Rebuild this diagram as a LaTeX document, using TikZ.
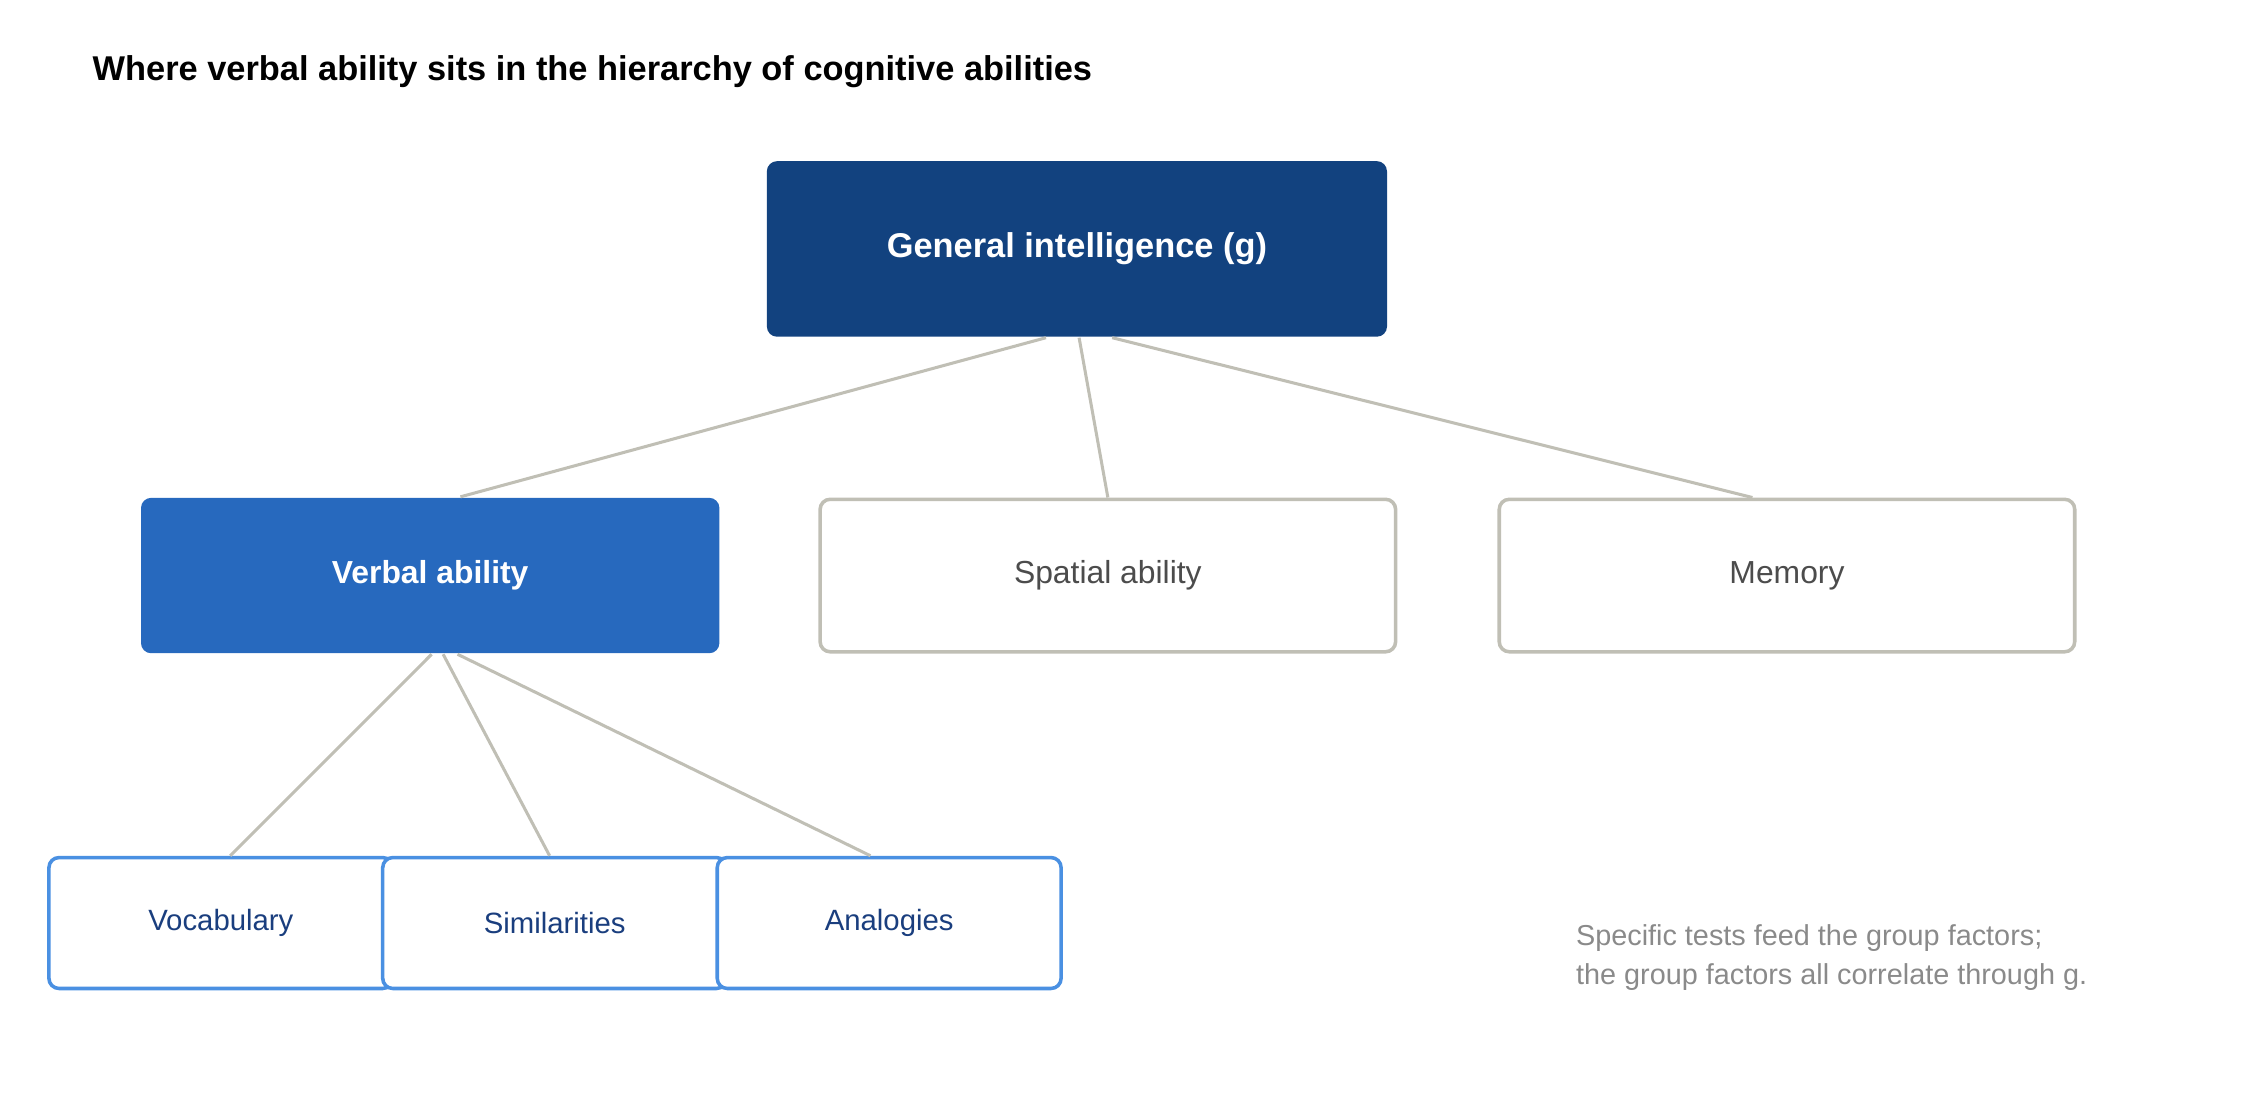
\documentclass[tikz,border=0pt]{standalone}
\usepackage{fontspec}
\setmainfont{Liberation Sans}
\definecolor{gdark}{HTML}{12427F}
\definecolor{vblue}{HTML}{2769BE}
\definecolor{lblue}{HTML}{4A90E2}
\definecolor{tblue}{HTML}{1A3E7E}
\definecolor{edgegray}{HTML}{C0BFB5}
\definecolor{notegray}{HTML}{8A8A8A}
\tikzset{
  top/.style={rectangle, rounded corners=2pt, fill=gdark, text=white, font=\fontsize{6.8pt}{8pt}\selectfont\bfseries, minimum width=4.31cm, minimum height=1.22cm},
  verbal/.style={rectangle, rounded corners=2pt, fill=vblue, text=white, font=\fontsize{6.3pt}{8pt}\selectfont\bfseries, minimum width=4.02cm, minimum height=1.08cm},
  group/.style={rectangle, rounded corners=2pt, draw=edgegray, line width=0.7pt, fill=white, text=black!70, font=\fontsize{6.3pt}{8pt}\selectfont, minimum width=4.0cm, minimum height=1.06cm},
  test/.style={rectangle, rounded corners=2pt, draw=lblue, line width=0.7pt, fill=white, text=tblue, font=\fontsize{5.8pt}{7pt}\selectfont, minimum width=2.39cm, minimum height=0.91cm},
  link/.style={draw=edgegray, line width=0.6pt}
}
\begin{document}
\begin{tikzpicture}
\useasboundingbox (0,0) rectangle (15.68,-7.78);
\draw (0.52,-0.5) node[anchor=west, font=\fontsize{6.8pt}{8pt}\selectfont\bfseries] (title) {Where verbal ability sits in the hierarchy of cognitive abilities} ;

\draw (7.485,-1.73) node[top] (g) {General intelligence (g)} ;

\draw (2.99,-4.0) node[verbal] (verbal) {Verbal ability} ;
\draw (7.70,-4.0) node[group] (spatial) {Spatial ability} ;
\draw (12.42,-4.0) node[group] (memory) {Memory} ;

\draw (1.535,-6.415) node[test] (vocab) {Vocabulary} ;
\draw (3.855,-6.415) node[test] (simil) {Similarities} ;
\draw (6.18,-6.415) node[test] (analog) {Analogies} ;

\draw (10.83,-6.3) node[anchor=north west, align=left, text=notegray, font=\fontsize{5.7pt}{7.7pt}\selectfont] (note) {Specific tests feed the group factors;\\the group factors all correlate through g.} ;

\draw[link]
     ([xshift=-0.215cm]g.south) to ([xshift=0.21cm]verbal.north)
     ([xshift=0.015cm]g.south) to (spatial.north)
     ([xshift=0.245cm]g.south) to ([xshift=-0.24cm]memory.north)

     ([xshift=0.01cm]verbal.south) to ([xshift=0.065cm]vocab.north)
     ([xshift=0.09cm]verbal.south) to ([xshift=-0.035cm]simil.north)
     ([xshift=0.19cm]verbal.south) to ([xshift=-0.13cm]analog.north) ;
\end{tikzpicture}
\end{document}
